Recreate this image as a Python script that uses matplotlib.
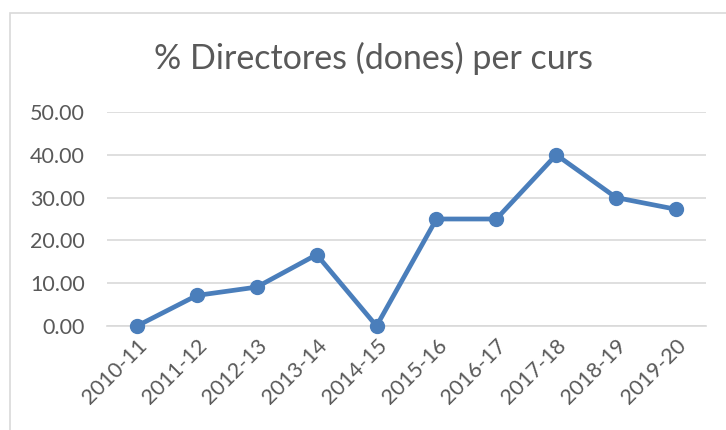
import matplotlib
matplotlib.use("Agg")
import matplotlib.pyplot as plt
from matplotlib.patches import Rectangle

cursos = ["2010-11", "2011-12", "2012-13", "2013-14", "2014-15",
          "2015-16", "2016-17", "2017-18", "2018-19", "2019-20"]
percentatge = [0.0, 7.14, 9.09, 16.67, 0.0, 25.0, 25.0, 40.0, 30.0, 27.27]
yticks = [0, 10, 20, 30, 40, 50]

W, H = 726, 430
fig = plt.figure(figsize=(W/100, H/100), dpi=100)
plt.rcParams['font.family'] = ['Lato', 'DejaVu Sans']

# outer chart border
fig.patches.append(Rectangle((10/W, -0.1), 1.2, 1.1 - 13/H, transform=fig.transFigure,
                             fill=False, edgecolor="#d9d9d9", linewidth=1.2))

ax = fig.add_axes([107/W, 1 - 326/H, (706-107)/W, (326-112)/H])
x = list(range(len(cursos)))
ax.plot(x, percentatge, color="#4a7ebb", linewidth=3.4, marker="o",
        markersize=10, solid_joinstyle="round", zorder=3, clip_on=False)
ax.set_xlim(-0.5, len(cursos) - 0.5)
ax.set_ylim(0, 50)
ax.set_yticks(yticks)
ax.set_yticklabels([f"{v:.2f}" for v in yticks])
ax.set_xticks(x)
ax.set_xticklabels(cursos, rotation=45, ha="right", rotation_mode="anchor")
ax.grid(axis="y", color="#d9d9d9", linewidth=1.2)
ax.set_axisbelow(True)
for s in ["top", "right", "left"]:
    ax.spines[s].set_visible(False)
ax.spines["bottom"].set_color("#d9d9d9")
ax.spines["bottom"].set_linewidth(1.2)
ax.tick_params(axis="both", length=0, labelsize=15.5, colors="#595959")
ax.tick_params(axis="y", pad=16)
ax.tick_params(axis="x", pad=7)

fig.text((150+597)/2/W, 1 - 58/H, "% Directores (dones) per curs",
         ha="center", va="center", fontsize=24.5, color="#595959")

fig.savefig("out.png", dpi=100)
